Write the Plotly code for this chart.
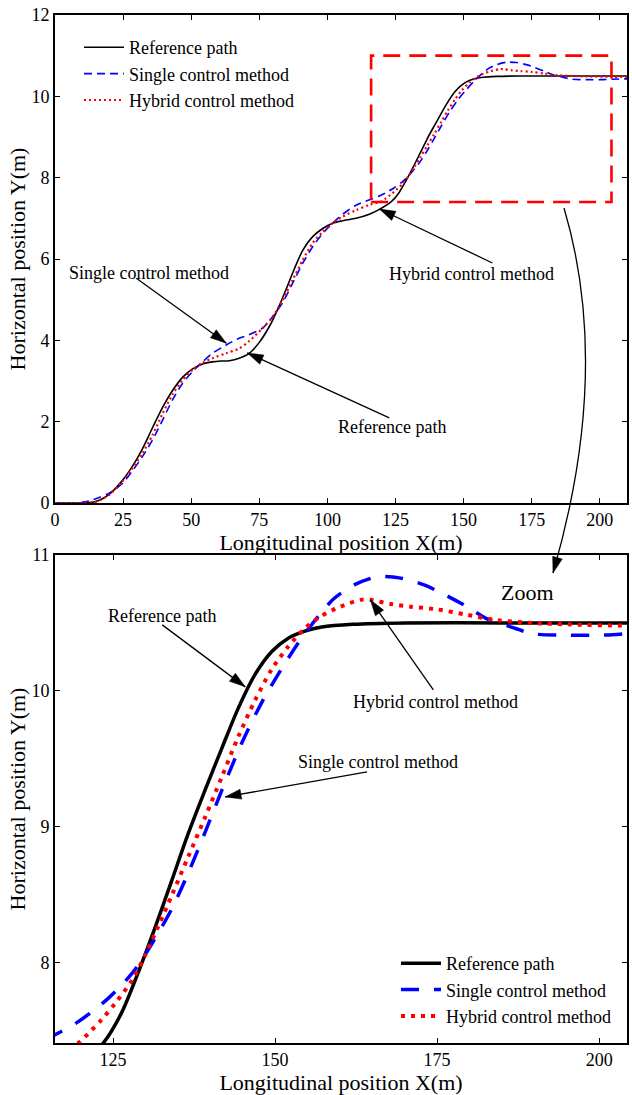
import numpy as np
import plotly.graph_objects as go

# ---------------- data ----------------
ref_x = [0, 10, 13, 16, 20, 24.7, 28.4, 32.1, 35.8, 39.5, 43.1, 46.8, 50.5, 54.2, 57.8, 61, 64, 67.6,
         71.3, 75, 78.7, 82, 85, 88, 91, 94.6, 98.3, 101.9, 105.6, 110.5, 115.4, 119.1, 123.5, 126.3,
         128.9, 131.5, 134.1, 136.6, 139.2, 141.8, 144.3, 146.9, 149.5, 152.1, 154.6, 157.2, 162, 170,
         185, 200, 210]
ref_y = [0, 0, 0.01, 0.06, 0.22, 0.55, 0.90, 1.33, 1.85, 2.35, 2.76, 3.09, 3.30, 3.42, 3.47, 3.49, 3.50,
         3.56, 3.68, 3.95, 4.34, 4.80, 5.28, 5.78, 6.22, 6.55, 6.75, 6.88, 6.94, 7.0, 7.1, 7.22, 7.41,
         7.63, 7.93, 8.26, 8.61, 8.95, 9.27, 9.58, 9.87, 10.12, 10.29, 10.39, 10.44, 10.47, 10.49, 10.5,
         10.5, 10.5, 10.5]

single_x = [0, 8, 12.5, 16, 19.9, 24.7, 28.4, 32.1, 35.8, 39.5, 43.1, 46.8, 50.5, 54.2, 57.8, 62.7,
            67.6, 71.3, 76.2, 79.9, 83.6, 87.2, 90.9, 94.6, 98.3, 101.9, 105.6, 110.5, 116.05, 119.1,
            121.2, 124.3, 127.9, 131, 134.1, 136.6, 139.2, 141.8, 144.9, 148, 151.1, 154.1, 157.2,
            159.1, 162.2, 165.8, 169.4, 173, 176.1, 179.6, 182.7, 185.8, 189.9, 195.1, 200.2, 204.3, 210]
single_y = [0, 0, 0.05, 0.13, 0.24, 0.48, 0.79, 1.14, 1.55, 2.04, 2.53, 2.94, 3.23, 3.47, 3.68, 3.88,
            4.05, 4.14, 4.30, 4.58, 4.93, 5.40, 5.89, 6.30, 6.63, 6.88, 7.10, 7.32, 7.47, 7.55, 7.62,
            7.74, 7.92, 8.14, 8.40, 8.66, 8.96, 9.27, 9.62, 9.92, 10.17, 10.39, 10.58, 10.68, 10.78,
            10.84, 10.83, 10.78, 10.71, 10.62, 10.53, 10.48, 10.42, 10.41, 10.41, 10.42, 10.43]

hybrid_x = [0, 10, 15, 19.9, 24.7, 28.4, 32.1, 35.8, 39.5, 43.1, 46.8, 50.5, 54.2, 57.8, 62.7, 67.6,
            71.3, 76.2, 79.9, 83.6, 87.2, 90.9, 94.6, 98.3, 101.9, 105.6, 110.5, 115.4, 119.6, 121.2,
            123.2, 125.3, 127.9, 130, 132, 134.1, 136.6, 139.2, 141.8, 144.3, 146.9, 149.5, 152.1,
            154.6, 157.1, 160.1, 163.2, 164.7, 167.8, 170.9, 175, 179.6, 184.3, 189.9, 195.1, 204.3, 210]
hybrid_y = [0, 0, 0.03, 0.2, 0.53, 0.85, 1.22, 1.67, 2.2, 2.66, 3.02, 3.27, 3.45, 3.56, 3.68, 3.80,
            3.98, 4.30, 4.58, 4.99, 5.48, 5.97, 6.39, 6.67, 6.88, 7.04, 7.20, 7.33, 7.41, 7.48, 7.58,
            7.70, 7.87, 8.06, 8.27, 8.50, 8.78, 9.07, 9.37, 9.66, 9.93, 10.16, 10.33, 10.46, 10.55,
            10.62, 10.67, 10.67, 10.64, 10.62, 10.60, 10.56, 10.52, 10.50, 10.49, 10.48, 10.48]

names = ["Reference path", "Single control method", "Hybrid control method"]

# axis ranges / ticks
top_xrange = [0, 210]
top_yrange = [0, 12]
top_xticks = [0, 25, 50, 75, 100, 125, 150, 175, 200]
top_yticks = [0, 2, 4, 6, 8, 10, 12]
zoom_xrange = [116.05, 204.3]
zoom_yrange = [7.41, 11.0]
zoom_xticks = [125, 150, 175, 200]
zoom_yticks = [8, 9, 10, 11]

FONT = "Liberation Serif"
W, H = 632, 1095

fig = go.Figure()

# ---- top plot traces
fig.add_trace(go.Scatter(x=ref_x, y=ref_y, name=names[0], mode="lines",
                         line=dict(color="black", width=1.6, shape="spline", smoothing=0.8),
                         xaxis="x", yaxis="y", legend="legend"))
fig.add_trace(go.Scatter(x=single_x, y=single_y, name=names[1], mode="lines",
                         line=dict(color="#0000ff", width=1.6, dash="8px,5px", shape="spline", smoothing=0.8),
                         xaxis="x", yaxis="y", legend="legend"))
fig.add_trace(go.Scatter(x=hybrid_x, y=hybrid_y, name=names[2], mode="lines",
                         line=dict(color="#ff0000", width=2.2, dash="2px,3px", shape="spline", smoothing=0.8),
                         xaxis="x", yaxis="y", legend="legend"))

# ---- zoom plot traces
fig.add_trace(go.Scatter(x=ref_x, y=ref_y, name=names[0], mode="lines",
                         line=dict(color="black", width=3.5, shape="spline", smoothing=0.8),
                         xaxis="x2", yaxis="y2", legend="legend2"))
fig.add_trace(go.Scatter(x=single_x, y=single_y, name=names[1], mode="lines",
                         line=dict(color="#0000ff", width=3.5, dash="18px,15px", shape="spline", smoothing=0.8),
                         xaxis="x2", yaxis="y2", legend="legend2"))
fig.add_trace(go.Scatter(x=hybrid_x, y=hybrid_y, name=names[2], mode="lines",
                         line=dict(color="#ff0000", width=4, dash="4px,6px", shape="spline", smoothing=0.8),
                         xaxis="x2", yaxis="y2", legend="legend2"))

axis_common = dict(showline=True, linecolor="black", linewidth=1.6, mirror="ticks",
                   ticks="inside", ticklen=5, tickwidth=1.4, tickcolor="black",
                   showgrid=False, zeroline=False, automargin=False,
                   tickfont=dict(family=FONT, size=18, color="black"))

xtitle = dict(text="Longitudinal position X(m)", font=dict(family=FONT, size=22), standoff=0)
ytitle = dict(text="Horizontal position Y(m)", font=dict(family=FONT, size=22), standoff=0)

xdom = [55 / W, 627 / W]
fig.update_layout(
    width=W, height=H,
    margin=dict(l=0, r=0, t=0, b=0, autoexpand=False),
    paper_bgcolor="white", plot_bgcolor="white",
    font=dict(family=FONT, size=18, color="black"),
    xaxis=dict(domain=xdom, range=top_xrange, tickvals=top_xticks, anchor="y", title=xtitle, **axis_common),
    yaxis=dict(domain=[1 - 503 / H, 1 - 15 / H], range=top_yrange, tickvals=top_yticks, anchor="x",
               title=ytitle, **axis_common),
    xaxis2=dict(domain=xdom, range=zoom_xrange, tickvals=zoom_xticks, anchor="y2", title=xtitle, **axis_common),
    yaxis2=dict(domain=[1 - 1043 / H, 1 - 555 / H], range=zoom_yrange, tickvals=zoom_yticks, anchor="x2",
                title=ytitle, **axis_common),
    legend=dict(x=79 / W, y=1 - 29 / H, xanchor="left", yanchor="top", bgcolor="rgba(0,0,0,0)",
                font=dict(family=FONT, size=18), tracegroupgap=0, itemwidth=40),
    legend2=dict(x=396 / W, y=1 - 945 / H, xanchor="left", yanchor="top", bgcolor="rgba(0,0,0,0)",
                 font=dict(family=FONT, size=18), tracegroupgap=0, itemwidth=40),
    showlegend=True,
)

shapes = []
# zoom rectangle on top plot (same ranges as the zoom axes)
shapes.append(dict(type="rect", xref="x", yref="y", x0=zoom_xrange[0], x1=zoom_xrange[1],
                   y0=7.4, y1=zoom_yrange[1], line=dict(color="#ff0000", width=2.6, dash="17px,9px"),
                   fillcolor="rgba(0,0,0,0)"))


def arrow(xref, yref, hx, hy, tdx, tdy, L=16, Wd=10, lw=1.3):
    """Arrow with head at data (hx, hy); tail at screen offset (tdx, tdy) px (y down)."""
    shapes.append(dict(type="line", xref=xref, yref=yref, xsizemode="pixel", ysizemode="pixel",
                       xanchor=hx, yanchor=hy, x0=tdx, y0=-tdy, x1=0, y1=0,
                       line=dict(color="black", width=lw)))
    ux, uy = -tdx, tdy  # direction tail->head, y up
    n = np.hypot(ux, uy)
    ux, uy = ux / n, uy / n
    nx, ny = -uy, ux
    bx, by = -L * ux, -L * uy
    p1 = (bx + nx * Wd / 2, by + ny * Wd / 2)
    p2 = (bx - nx * Wd / 2, by - ny * Wd / 2)
    path = f"M0,0L{p1[0]:.2f},{p1[1]:.2f}L{p2[0]:.2f},{p2[1]:.2f}Z"
    shapes.append(dict(type="path", xref=xref, yref=yref, xsizemode="pixel", ysizemode="pixel",
                       xanchor=hx, yanchor=hy, path=path, fillcolor="black",
                       line=dict(color="black", width=0.5)))


# top plot arrows
arrow("x", "y", 62.9, 3.93, -90, -65)
arrow("x", "y", 119.1, 7.23, 113, 54)
arrow("x", "y", 70.6, 3.69, 142, 65)
# zoom plot arrows
arrow("x2", "y2", 145.4, 10.03, -83, -62)
arrow("x2", "y2", 142.3, 9.22, 142, -25)
arrow("x2", "y2", 164.7, 10.67, 63, 90)

# curved "Zoom" arrow in paper coordinates
p0 = (564, 208)
c = (612, 370)
p2 = (553, 573)
def px2paper(p):
    return p[0] / W, 1 - p[1] / H
a, b, d = px2paper(p0), px2paper(c), px2paper(p2)
shapes.append(dict(type="path", xref="paper", yref="paper",
                   path=f"M{a[0]:.5f},{a[1]:.5f}Q{b[0]:.5f},{b[1]:.5f} {d[0]:.5f},{d[1]:.5f}",
                   line=dict(color="black", width=1.3)))
ux, uy = (p2[0] - c[0]), -(p2[1] - c[1])
n = np.hypot(ux, uy); ux, uy = ux / n, uy / n
nx, ny = -uy, ux
L, Wd = 16, 10
bx, by = -L * ux, -L * uy
shapes.append(dict(type="path", xref="paper", yref="paper", xsizemode="pixel", ysizemode="pixel",
                   xanchor=d[0], yanchor=d[1],
                   path=f"M0,0L{bx + nx*Wd/2:.2f},{by + ny*Wd/2:.2f}L{bx - nx*Wd/2:.2f},{by - ny*Wd/2:.2f}Z",
                   fillcolor="black", line=dict(color="black", width=0.5)))

fig.update_layout(shapes=shapes)

ann_font = dict(family=FONT, size=18, color="black")
annotations = [
    dict(text="Single control method", x=34.6, y=5.66, xref="x", yref="y", showarrow=False, font=ann_font),
    dict(text="Hybrid control method", x=152.9, y=5.63, xref="x", yref="y", showarrow=False, font=ann_font),
    dict(text="Reference path", x=123.9, y=1.87, xref="x", yref="y", showarrow=False, font=ann_font),
    dict(text="Reference path", x=132.6, y=10.55, xref="x2", yref="y2", showarrow=False, font=ann_font),
    dict(text="Single control method", x=165.9, y=9.48, xref="x2", yref="y2", showarrow=False, font=ann_font),
    dict(text="Hybrid control method", x=174.7, y=9.92, xref="x2", yref="y2", showarrow=False, font=ann_font),
    dict(text="Zoom", x=556 / W, y=1 - 592 / H, xref="paper", yref="paper", showarrow=False,
         font=dict(family=FONT, size=22, color="black")),
]
fig.update_layout(annotations=annotations)

fig.write_html("out.html")
